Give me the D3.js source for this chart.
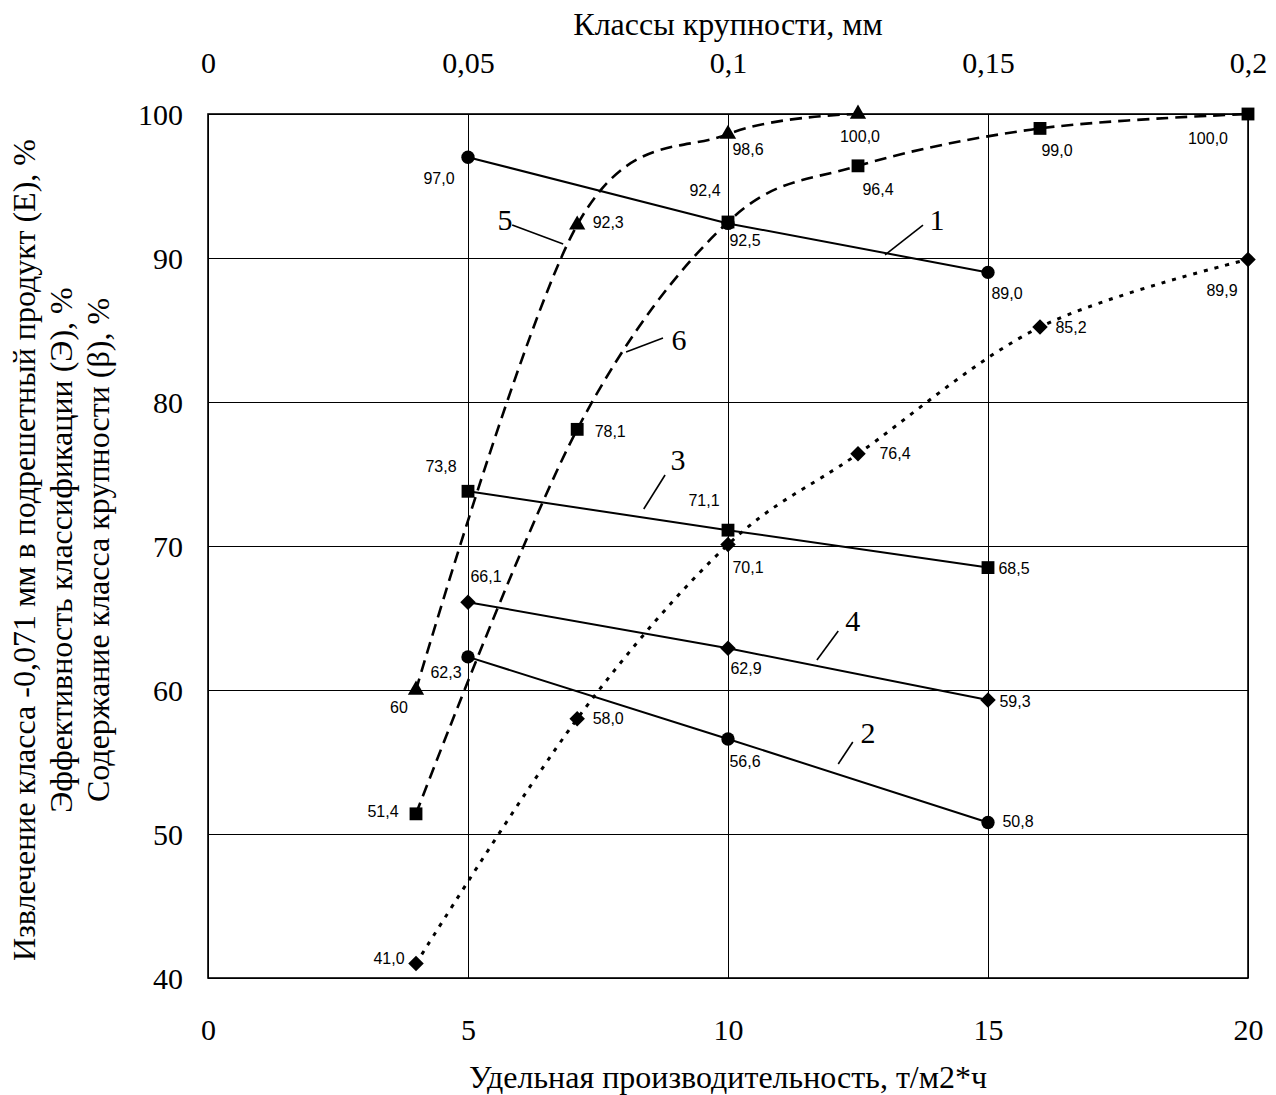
<!DOCTYPE html>
<html>
<head>
<meta charset="utf-8">
<script src="https://d3js.org/d3.v7.min.js"></script>
<style>
  body { margin: 0; background: #fff; }
  svg { display: block; }
  .axis-text { font-family: "Liberation Serif", "Times New Roman", serif; fill: #000; }
  .val { font-family: "Liberation Sans", Arial, sans-serif; font-size: 16px; fill: #000; }
</style>
</head>
<body>
<svg width="1276" height="1095"></svg>
<script>
/// data
// bottom axis: specific throughput, t/m2*h
var throughput = [5, 10, 15];
var line1 = [97.0, 92.4, 89.0];
var line2 = [62.3, 56.6, 50.8];
var line3 = [73.8, 71.1, 68.5];
var line4 = [66.1, 62.9, 59.3];
// top axis: size classes, mm
var sizes5 = [0.04, 0.071, 0.1, 0.125];
var curve5 = [60, 92.3, 98.6, 100.0];
var sizes = [0.04, 0.071, 0.1, 0.125, 0.16, 0.2];
var curve6 = [51.4, 78.1, 92.5, 96.4, 99.0, 100.0];
var curveDot = [41.0, 58.0, 70.1, 76.4, 85.2, 89.9];

var bottomTicks = [0, 5, 10, 15, 20];
var topTicks = [0, 0.05, 0.1, 0.15, 0.2];
var yTicks = [40, 50, 60, 70, 80, 90, 100];

var xTitle = "Удельная производительность, т/м2*ч";
var topTitle = "Классы крупности, мм";
var yTitles = [
  "Извлечение класса -0,071 мм в подрешетный продукт (Е), %",
  "Эффективность классификации (Э), %",
  "Содержание класса крупности (β), %"
];

// curve number callouts, in bottom-axis / y units: [label, textX, textY, x1, y1, x2, y2]
var callouts = [
  ["5", 5.71, 92.64, 5.85, 92.29, 6.83, 90.97],
  ["1", 14.02, 92.64, 13.75, 92.29, 13.02, 90.21],
  ["6", 9.06, 84.31, 8.75, 84.44, 8.04, 83.47],
  ["3", 9.04, 76.04, 8.79, 74.93, 8.38, 72.57],
  ["4", 12.40, 64.86, 12.12, 64.10, 11.71, 62.08],
  ["2", 12.69, 57.08, 12.40, 56.39, 12.12, 54.86]
];

/// layout (note: "top" is taken by window.top, so plot* names)
var svg = d3.select("svg");
var plotLeft = 208, plotTop = 114, plotW = 1040, plotH = 864;

var x = d3.scaleLinear().domain([0, 20]).range([plotLeft, plotLeft + plotW]);
var xTop = d3.scaleLinear().domain([0, 0.2]).range([plotLeft, plotLeft + plotW]);
var y = d3.scaleLinear().domain([40, 100]).range([plotTop + plotH, plotTop]);

var comma = function(v) { return String(v).replace(".", ","); };
var fmt1 = function(v) { return d3.format(".1f")(v).replace(".", ","); };

/// grid
svg.append("g")
  .attr("transform", "translate(0," + (plotTop + plotH) + ")")
  .call(d3.axisBottom(x).tickValues(bottomTicks).tickSize(-plotH).tickFormat(""))
  .call(function(g) { g.select(".domain").remove(); })
  .selectAll("line").attr("stroke", "#000").attr("stroke-width", 1);

svg.append("g")
  .attr("transform", "translate(" + plotLeft + ",0)")
  .call(d3.axisLeft(y).tickValues(yTicks).tickSize(-plotW).tickFormat(""))
  .call(function(g) { g.select(".domain").remove(); })
  .selectAll("line").attr("stroke", "#000").attr("stroke-width", 1);

svg.append("rect")
  .attr("x", plotLeft).attr("y", plotTop).attr("width", plotW).attr("height", plotH)
  .attr("fill", "none").attr("stroke", "#000").attr("stroke-width", 1.6);

/// tick labels
var gb = svg.append("g")
  .attr("transform", "translate(0," + (plotTop + plotH) + ")")
  .call(d3.axisBottom(x).tickValues(bottomTicks).tickSize(0).tickPadding(41).tickFormat(comma));
var gt = svg.append("g")
  .attr("transform", "translate(0," + plotTop + ")")
  .call(d3.axisTop(xTop).tickValues(topTicks).tickSize(0).tickPadding(41).tickFormat(comma));
var gl = svg.append("g")
  .attr("transform", "translate(" + plotLeft + ",0)")
  .call(d3.axisLeft(y).tickValues(yTicks).tickSize(0).tickPadding(25));
[gb, gt, gl].forEach(function(g) {
  g.select(".domain").remove();
  g.selectAll("text").attr("class", "axis-text").attr("font-size", 30).attr("fill", "#000");
});
gl.selectAll("text").attr("dy", "0.35em");

svg.append("text").attr("class", "axis-text").attr("font-size", 32)
  .attr("x", x(10)).attr("y", 1088).attr("text-anchor", "middle").text(xTitle);
svg.append("text").attr("class", "axis-text").attr("font-size", 32)
  .attr("x", x(10)).attr("y", 35).attr("text-anchor", "middle").text(topTitle);
svg.selectAll(".ytitle").data(yTitles).enter().append("text")
  .attr("class", "axis-text ytitle").attr("font-size", 32)
  .attr("text-anchor", "middle")
  .attr("transform", function(d, i) { return "translate(" + [35 + i * 37, 550] + ") rotate(-90)"; })
  .text(function(d) { return d; });

/// series
var series = [
  { xs: throughput, ys: line1, sx: x, sym: "circle", dash: null, curve: d3.curveLinear,
    off: [[-29, 21], [-23, -33], [19, 21]] },
  { xs: throughput, ys: line2, sx: x, sym: "circle", dash: null, curve: d3.curveLinear,
    off: [[-22, 16], [17, 22], [30, -1]] },
  { xs: throughput, ys: line3, sx: x, sym: "square", dash: null, curve: d3.curveLinear,
    off: [[-27, -25], [-24, -30], [26, 1]] },
  { xs: throughput, ys: line4, sx: x, sym: "diamond", dash: null, curve: d3.curveLinear,
    off: [[18, -26], [18, 20], [27, 1]] },
  { xs: sizes5, ys: curve5, sx: xTop, sym: "triangle", dash: "12,7", curve: d3.curveCardinal.tension(0),
    off: [[-17, 17], [31, -2], [20, 15], [2, 22]], text: ["60", "92,3", "98,6", "100,0"] },
  { xs: sizes, ys: curve6, sx: xTop, sym: "square", dash: "12,7", curve: d3.curveCardinal.tension(0),
    off: [[-33, -2], [33, 2], [17, 18], [20, 24], [17, 22], [-40, 24]] },
  { xs: sizes, ys: curveDot, sx: xTop, sym: "diamond", dash: "4,7", curve: d3.curveCardinal.tension(0),
    off: [[-27, -5], [31, 0], [20, 23], [37, 0], [31, 0], [-26, 31]] }
];

var symbols = {
  circle: d3.symbol().type(d3.symbolCircle).size(140),
  square: d3.symbol().type(d3.symbolSquare).size(165),
  triangle: d3.symbol().type(d3.symbolTriangle).size(115),
  diamond: d3.symbol().type(d3.symbolSquare).size(120)
};

series.forEach(function(s) {
  var pts = s.xs.map(function(v, i) { return [s.sx(v), y(s.ys[i])]; });
  var line = d3.line().curve(s.curve);

  svg.append("path")
    .attr("d", line(pts))
    .attr("fill", "none")
    .attr("stroke", "#000")
    .attr("stroke-width", s.dash === "4,7" ? 3 : (s.dash ? 2.6 : 2))
    .attr("stroke-dasharray", s.dash);

  svg.selectAll(null).data(pts).enter().append("path")
    .attr("d", symbols[s.sym]())
    .attr("transform", function(d) {
      return "translate(" + d + ")" + (s.sym === "diamond" ? " rotate(45)" : "");
    })
    .attr("fill", "#000");

  svg.selectAll(null).data(pts).enter().append("text")
    .attr("class", "val")
    .attr("x", function(d, i) { return d[0] + s.off[i][0]; })
    .attr("y", function(d, i) { return d[1] + s.off[i][1]; })
    .attr("dy", "0.35em")
    .attr("text-anchor", "middle")
    .text(function(d, i) { return s.text ? s.text[i] : fmt1(s.ys[i]); });
});

/// curve numbers with leader lines
var cg = svg.append("g");
cg.selectAll("line").data(callouts).enter().append("line")
  .attr("x1", function(d) { return x(d[3]); })
  .attr("y1", function(d) { return y(d[4]); })
  .attr("x2", function(d) { return x(d[5]); })
  .attr("y2", function(d) { return y(d[6]); })
  .attr("stroke", "#000").attr("stroke-width", 1.6);
cg.selectAll("text").data(callouts).enter().append("text")
  .attr("class", "axis-text").attr("font-size", 30)
  .attr("x", function(d) { return x(d[1]); })
  .attr("y", function(d) { return y(d[2]); })
  .attr("dy", "0.35em")
  .attr("text-anchor", "middle")
  .text(function(d) { return d[0]; });
</script>
</body>
</html>
